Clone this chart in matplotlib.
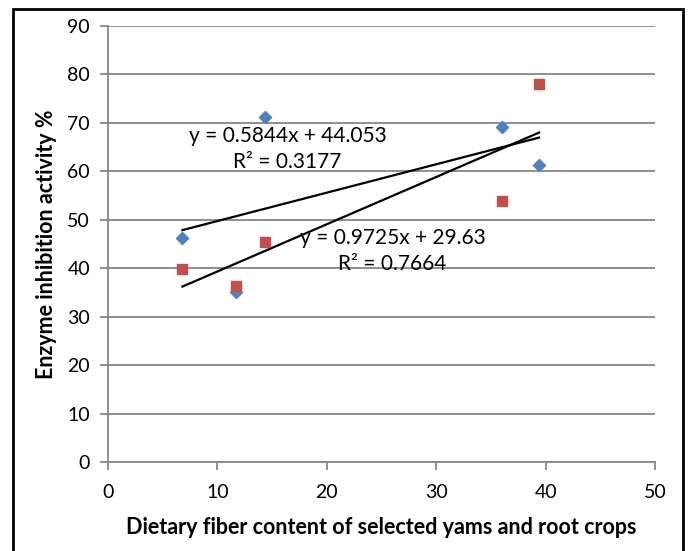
import numpy as np
import matplotlib
matplotlib.use("Agg")
import matplotlib.pyplot as plt
from matplotlib.patches import Rectangle

# Data
fiber = [6.8, 11.73, 14.38, 36.0, 39.4]
series1 = [46.3, 35.0, 71.2, 69.1, 61.25]   # blue diamonds
series2 = [39.8, 36.4, 45.5, 53.8, 78.0]    # red squares
eq1 = "y = 0.5844x + 44.053\nR² = 0.3177"
eq2 = "y = 0.9725x + 29.63\nR² = 0.7664"
xticks = [0, 10, 20, 30, 40, 50]
yticks = [0, 10, 20, 30, 40, 50, 60, 70, 80, 90]
xlabel = "Dietary fiber content of selected yams and root crops"
ylabel = "Enzyme inhibition activity %"

plt.rcParams['font.family'] = ['Lato', 'DejaVu Sans']

fig = plt.figure(figsize=(6.88, 5.51), dpi=100)
ax = fig.add_axes([108/688, 1-462/551, (655-108)/688, (462-26)/551])

grid_c = '#878787'
ax.set_xlim(0, 50)
ax.set_ylim(0, 90)
ax.set_xticks(xticks)
ax.set_yticks(yticks)
ax.yaxis.grid(True, color=grid_c, linewidth=1.3)
ax.set_axisbelow(True)
for s in ['top', 'right']:
    ax.spines[s].set_visible(False)
for s in ['left', 'bottom']:
    ax.spines[s].set_color(grid_c)
    ax.spines[s].set_linewidth(1.3)
ax.tick_params(axis='both', colors=grid_c, length=6, width=1.3, labelsize=14,
               labelcolor='black', direction='out')
ax.tick_params(axis='x', pad=10)
ax.tick_params(axis='y', pad=7)

x = np.array(fiber)
for ys in (series1, series2):
    p = np.polyfit(x, np.array(ys), 1)
    xx = np.array([x.min(), x.max()])
    ax.plot(xx, np.polyval(p, xx), color='black', linewidth=1.6, zorder=3)

ax.scatter(fiber, series1, marker='D', s=38, color='#4F81BD', zorder=4)
ax.scatter(fiber, series2, marker='s', s=60, color='#C0504D', zorder=4)

ax.text(16.4, 64.6, eq1, ha='center', va='center', fontsize=15, linespacing=1.4, zorder=5)
ax.text(26.0, 43.6, eq2, ha='center', va='center', fontsize=15, linespacing=1.4, zorder=5)

ax.set_xlabel(xlabel, fontsize=15.5, fontweight='bold', labelpad=11)
ax.set_ylabel(ylabel, fontsize=15.5, fontweight='bold', labelpad=7)

fig.patches.append(Rectangle((13/688, -10/551), 670/688, (551 - 9 + 10)/551, transform=fig.transFigure,
                             fill=False, edgecolor='black', linewidth=2))

fig.savefig('out.png', dpi=100)
